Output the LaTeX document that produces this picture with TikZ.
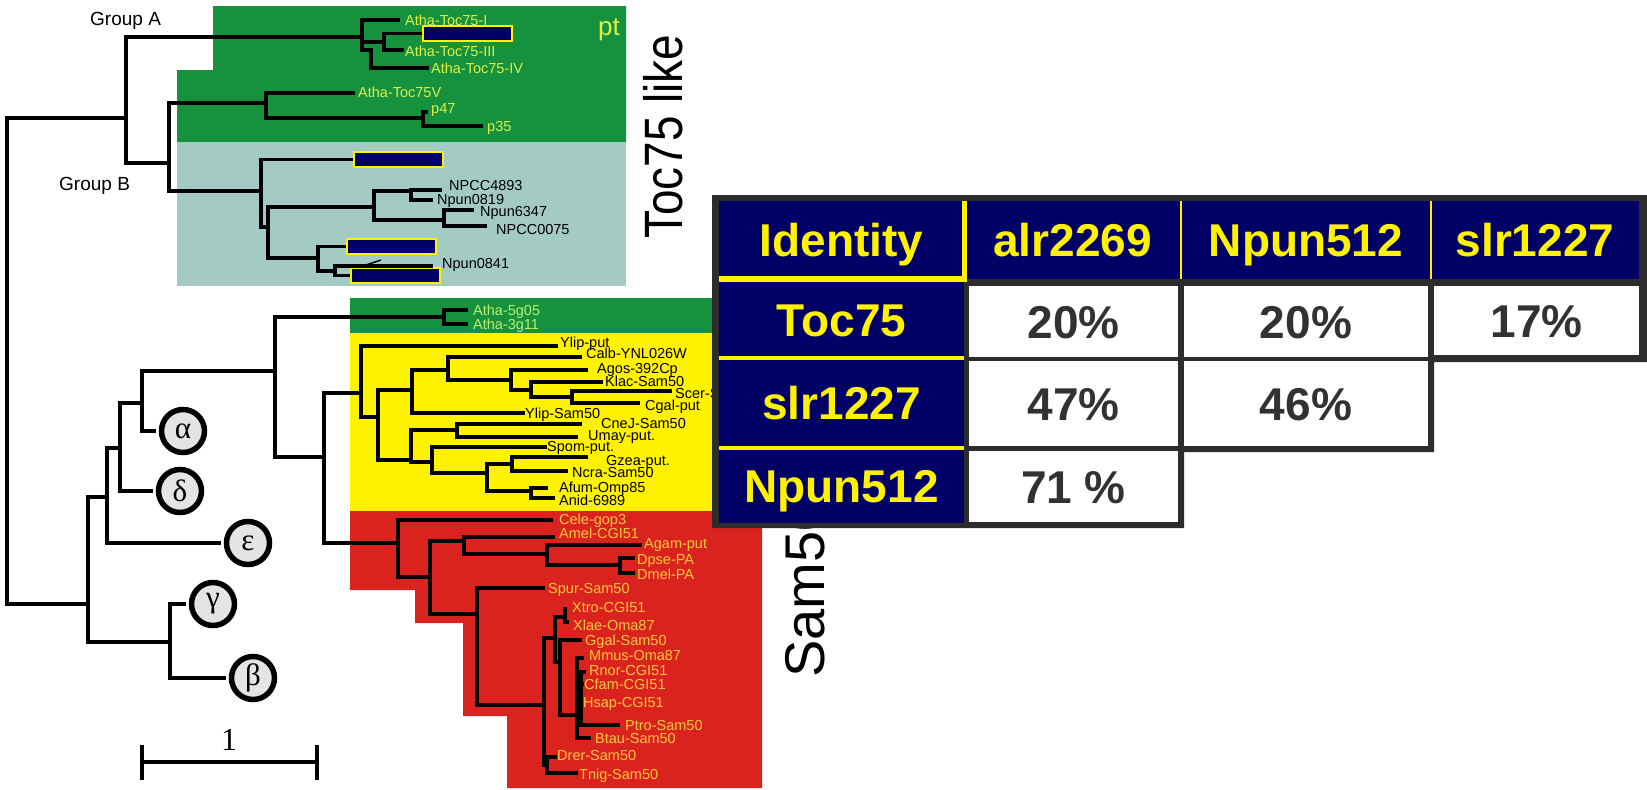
\documentclass[tikz,border=0pt]{standalone}
\usepackage{fontspec}
\setmainfont{Liberation Sans}
\newfontfamily\greekfont{Liberation Serif}
\newfontfamily\sidefont[FakeStretch=0.85]{Liberation Sans}
\usepackage{tikz}

\definecolor{ptgreen}{RGB}{22,146,62}
\definecolor{tealbg}{RGB}{163,203,196}
\definecolor{samyellow}{RGB}{255,242,0}
\definecolor{samred}{RGB}{218,35,30}
\definecolor{navy}{RGB}{0,0,102}
\definecolor{ptlabel}{RGB}{220,240,70}
\definecolor{atlabel}{RGB}{185,240,110}
\definecolor{redlabel}{RGB}{255,200,60}
\definecolor{tabline}{RGB}{45,45,45}
\definecolor{numgray}{RGB}{50,50,50}
\definecolor{circfill}{RGB}{228,228,228}

\begin{document}
\begin{tikzpicture}[x=1pt,y=-1pt,line join=miter]
	\tikzstyle{branch} = [line width=3.2pt]
	\tikzstyle{leaf} = [anchor=base west,inner sep=0pt,yshift=-5pt,font=\fontsize{14.5}{14.5}\selectfont]
	\tikzstyle{hidebox} = [draw=yellow,fill=navy,line width=2pt,minimum width=89pt,minimum height=15pt,inner sep=0pt]
	\tikzstyle{clade} = [circle,draw,line width=5.5pt,fill=circfill,minimum size=43pt,inner sep=0pt,font=\greekfont\fontsize{31}{31}\selectfont]
	\tikzstyle{hdcell} = [fill=navy,text=yellow,inner sep=0pt,font=\bfseries\fontsize{46}{46}\selectfont,text height=33pt,text depth=0pt]
	\tikzstyle{numcell} = [fill=white,text=numgray,inner sep=0pt,font=\bfseries\fontsize{46}{46}\selectfont,text height=33pt,text depth=0pt]
	\useasboundingbox (0,0) rectangle (1647,790);

	% coloured backgrounds
	\fill[ptgreen] (213,6) -- (626,6) -- (626,142) -- (177,142) -- (177,70) -- (213,70) -- cycle;
	\fill[tealbg] (177,142) rectangle (626,286);
	\fill[ptgreen] (350,298) rectangle (762,333);
	\fill[samyellow] (350,333) rectangle (762,511);
	\fill[samred] (350,511) -- (762,511) -- (762,788) -- (507,788) -- (507,716) -- (463,716)
		-- (463,623) -- (415,623) -- (415,590) -- (350,590) -- cycle;

	% masked sequences
	\node[hidebox] (boxa) at (467.5,33.5) {};
	\node[hidebox] (boxb) at (398,159.5) {};
	\node[hidebox] (boxc) at (391,246.5) {};
	\node[hidebox] (boxd) at (395.5,275.5) {};

	% Toc75 like part
	\draw[branch] (126,118) -| (7,604) -- (88,604);
	\draw[branch] (362,37) -| (126,163) -- (169,163);
	\draw[branch] (400,20) -| (362,50) -- (371,50) |- (429,68);
	\draw[branch] (362,42) -- (384,42);
	\draw[branch] (boxa.west) -| (384,50) -- (404,50);
	\draw[branch] (266,103) -| (169,191) -- (261,191);
	\draw[branch] (355,93) -| (266,118) -- (423,118);
	\draw[branch] (428,112) -| (423,126) -- (483,126);
	\draw[branch] (boxb.west) -| (261,227) -- (268,227);
	\draw[branch] (374,207) -| (268,258) -- (318,258);
	\draw[branch] (411,191) -| (374,220) -- (444,220);
	\draw[branch] (442,190) -| (411,200) -- (433,200);
	\draw[branch] (474,210) -| (444,226) -- (487,226);
	\draw[branch] (boxc.west) -| (318,271) -- (335,271);
	\draw[branch] (boxd.west) -| (335,266) -- (433,266);
	\draw[line width=1.5pt] (366,265) -- (381,260);

	\node[leaf,text=ptlabel] (toc1) at (405,20) {Atha-Toc75-I};
	\node[leaf,text=ptlabel] (toc3) at (405,51) {Atha-Toc75-III};
	\node[leaf,text=ptlabel] (toc4) at (431,68) {Atha-Toc75-IV};
	\node[leaf,text=ptlabel] (toc5) at (358,92) {Atha-Toc75V};
	\node[leaf,text=ptlabel] (p47) at (431,108) {p47};
	\node[leaf,text=ptlabel] (p35) at (487,126) {p35};
	\node[leaf] (npcc4893) at (449,185) {NPCC4893};
	\node[leaf] (npun0819) at (437,199) {Npun0819};
	\node[leaf] (npun6347) at (480,211) {Npun6347};
	\node[leaf] (npcc0075) at (496,229) {NPCC0075};
	\node[leaf] (npun0841) at (442,263) {Npun0841};
	\node[anchor=west,inner sep=0pt,text=ptlabel,font=\fontsize{26}{26}\selectfont] (pt) at (598,30) {pt};
	\node[anchor=base west,inner sep=0pt,font=\fontsize{19}{19}\selectfont] (grpa) at (90,25) {Group A};
	\node[anchor=base west,inner sep=0pt,font=\fontsize{19}{19}\selectfont] (grpb) at (59,190) {Group B};

	% clades alpha .. epsilon
	\node[clade] (alpha) at (183,431) {α};
	\node[clade] (delta) at (180,491) {δ};
	\node[clade] (eps) at (248,543) {ε};
	\node[clade] (gamma) at (213,604) {γ};
	\node[clade] (beta) at (253,678) {β};
	\draw[branch] (107,497) -| (88,642) -- (170,642);
	\draw[branch,shorten >=3pt] (120,448) -| (107,543) -- (eps);
	\draw[branch,shorten >=3pt] (142,403) -| (120,491) -- (delta);
	\draw[branch,shorten >=3pt] (275,371) -| (142,431) -- (alpha);
	\draw[branch,shorten <=3pt,shorten >=3pt] (gamma) -| (170,678) -- (beta);

	% Sam50 part
	\draw[branch] (444,317) -| (275,457) -- (324,457);
	\draw[branch] (361,393) -| (324,543) -- (398,543);
	\draw[branch] (468,310) -| (444,324) -- (468,324);
	\draw[branch] (558,346) -| (361,417) -- (378,417);
	\draw[branch] (412,390) -| (378,460) -- (411,460);
	\draw[branch] (448,370) -| (412,413) -- (525,413);
	\draw[branch] (582,357) -| (448,380) -- (511,380);
	\draw[branch] (588,370) -| (511,390) -- (531,390);
	\draw[branch] (603,382) -| (531,397) -- (572,397);
	\draw[branch] (672,391) -| (572,403) -- (640,403);
	\draw[branch] (457,430) -| (411,462) -- (432,462);
	\draw[branch] (582,424) -| (457,437) -- (578,437);
	\draw[branch] (547,447) -| (432,473) -- (487,473);
	\draw[branch] (512,464) -| (487,491) -- (531,491);
	\draw[branch] (588,457) -| (512,471) -- (568,471);
	\draw[branch] (548,488) -| (531,498) -- (555,498);
	\draw[branch] (553,520) -| (398,577) -- (430,577);
	\draw[branch] (464,541) -| (430,614) -- (477,614);
	\draw[branch] (555,537) -| (464,554) -- (547,554);
	\draw[branch] (642,545) -| (547,565) -- (620,565);
	\draw[branch] (635,558) -| (620,573) -- (635,573);
	\draw[branch] (545,588) -| (477,705) -- (544,705);
	\draw[branch] (555,638) -| (544,765) -- (547,765);
	\draw[branch] (557,757) -| (547,773) -- (578,773);
	\draw[branch] (565,617) -| (555,662) -- (560,662);
	\draw[branch] (565,607) -- (565,622) -- (569,622);
	\draw[branch] (582,640) -| (560,715) -- (577,715);
	\draw[branch] (584,658) -| (577,738) -- (591,738);
	\draw[branch] (586,672) -| (581,725) -- (620,725);
	\draw[branch] (581,684) -- (584,684);
	\fill (576,694) rectangle (583,706);

	\node[leaf,text=atlabel] (a5g05) at (473,310) {Atha-5g05};
	\node[leaf,text=atlabel] (a3g11) at (473,324) {Atha-3g11};
	\node[leaf] (ylipput) at (560,342) {Ylip-put};
	\node[leaf] (calb) at (586,353) {Calb-YNL026W};
	\node[leaf] (agos) at (597,368) {Agos-392Cp};
	\node[leaf] (klac) at (605,381) {Klac-Sam50};
	\node[leaf] (scer) at (675,393) {Scer-Sam50};
	\node[leaf] (cgal) at (645,405) {Cgal-put};
	\node[leaf] (ylipsam) at (525,413) {Ylip-Sam50};
	\node[leaf] (cnej) at (601,423) {CneJ-Sam50};
	\node[leaf] (umay) at (588,435) {Umay-put.};
	\node[leaf] (spom) at (547,446) {Spom-put.};
	\node[leaf] (gzea) at (606,460) {Gzea-put.};
	\node[leaf] (ncra) at (572,472) {Ncra-Sam50};
	\node[leaf] (afum) at (559,487) {Afum-Omp85};
	\node[leaf] (anid) at (559,500) {Anid-6989};
	\node[leaf,text=redlabel] (cele) at (559,519) {Cele-gop3};
	\node[leaf,text=redlabel] (amel) at (559,533) {Amel-CGI51};
	\node[leaf,text=redlabel] (agam) at (644,543) {Agam-put};
	\node[leaf,text=redlabel] (dpse) at (637,559) {Dpse-PA};
	\node[leaf,text=redlabel] (dmel) at (637,574) {Dmel-PA};
	\node[leaf,text=redlabel] (spur) at (548,588) {Spur-Sam50};
	\node[leaf,text=redlabel] (xtro) at (572,607) {Xtro-CGI51};
	\node[leaf,text=redlabel] (xlae) at (573,625) {Xlae-Oma87};
	\node[leaf,text=redlabel] (ggal) at (585,640) {Ggal-Sam50};
	\node[leaf,text=redlabel] (mmus) at (589,655) {Mmus-Oma87};
	\node[leaf,text=redlabel] (rnor) at (589,670) {Rnor-CGI51};
	\node[leaf,text=redlabel] (cfam) at (584,684) {Cfam-CGI51};
	\node[leaf,text=redlabel] (hsap) at (583,702) {Hsap-CGI51};
	\node[leaf,text=redlabel] (ptro) at (625,725) {Ptro-Sam50};
	\node[leaf,text=redlabel] (btau) at (595,738) {Btau-Sam50};
	\node[leaf,text=redlabel] (drer) at (557,755) {Drer-Sam50};
	\node[leaf,text=redlabel] (tnig) at (579,774) {Tnig-Sam50};

	% side labels and scale bar
	\node[rotate=90,anchor=base west,inner sep=0pt,font=\sidefont\fontsize{54}{54}\selectfont] (toclike) at (682,239) {Toc75 like};
	\node[rotate=90,anchor=base west,inner sep=0pt,font=\fontsize{56}{56}\selectfont] (samlab) at (824,678) {Sam50};
	\draw[branch] (142,762) -- (317,762);
	\draw[branch] (142,745) -- (142,780);
	\draw[branch] (317,745) -- (317,780);
	\node[font=\greekfont\fontsize{32}{32}\selectfont] (unit) at (229,740) {1};

	% identity table
	\fill[tabline] (712,195) -- (1647,195) -- (1647,362) -- (1434,362) -- (1434,452) -- (1184,452)
		-- (1184,528) -- (712,528) -- cycle;
	\node[hdcell,minimum width=245pt,minimum height=78pt] (hid) at (841.5,240) {Identity};
	\node[hdcell,minimum width=217pt,minimum height=78pt] (halr) at (1072.5,240) {alr2269};
	\node[hdcell,minimum width=250pt,minimum height=78pt] (hnpun) at (1306,240) {Npun512};
	\node[hdcell,minimum width=208pt,minimum height=78pt] (hslr) at (1535,240) {slr1227};
	\node[hdcell,minimum width=245pt,minimum height=76pt] (rtoc) at (841.5,320) {Toc75};
	\node[hdcell,minimum width=245pt,minimum height=90pt] (rslr) at (841.5,403) {slr1227};
	\node[hdcell,minimum width=245pt,minimum height=75pt] (rnpun) at (841.5,485.5) {Npun512};
	\node[numcell,minimum width=209pt,minimum height=71pt] (c22) at (1073.5,321.5) {20\%};
	\node[numcell,minimum width=244pt,minimum height=71pt] (c23) at (1306,321.5) {20\%};
	\node[numcell,minimum width=205pt,minimum height=69pt] (c24) at (1536.5,320.5) {17\%};
	\node[numcell,minimum width=209pt,minimum height=85pt] (c32) at (1073.5,403.5) {47\%};
	\node[numcell,minimum width=244pt,minimum height=85pt] (c33) at (1306,403.5) {46\%};
	\node[numcell,minimum width=209pt,minimum height=71pt] (c42) at (1073.5,486.5) {71 \%};
	\draw[yellow,line width=6pt] (hid.south west) -- (hid.south east);
	\draw[yellow,line width=4pt] (rtoc.south west) -- (rtoc.south east);
	\draw[yellow,line width=4pt] (rslr.south west) -- (rslr.south east);
	\draw[yellow,line width=5pt] (hid.north east) -- ([yshift=-3pt]hid.south east);
	\draw[yellow,line width=2pt] (halr.north east) -- (halr.south east);
	\draw[yellow,line width=2pt] (hnpun.north east) -- (hnpun.south east);
\end{tikzpicture}
\end{document}
